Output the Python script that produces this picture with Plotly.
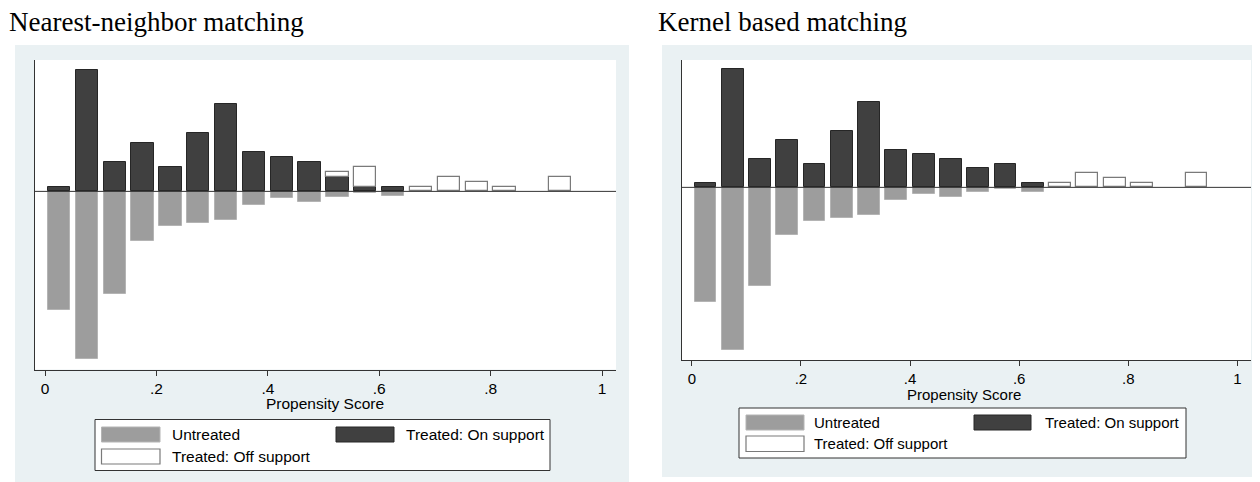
import plotly.graph_objects as go

# The page body adds an 8px margin, so the figure is sized/placed accordingly.
OFF = 8
W, H = 1260 - OFF, 482 - OFF

# ---- data (histogram bins of propensity score, width .05) ----
bin_centers = [0.025, 0.075, 0.125, 0.175, 0.225, 0.275, 0.325, 0.375, 0.425, 0.475,
               0.525, 0.575, 0.625, 0.675, 0.725, 0.775, 0.825, 0.875, 0.925]
untreated = [-24.3, -34.5, -21.0, -10.2, -7.2, -6.4, -5.8, -2.7, -1.45, -2.1,
             -1.05, -0.3, -0.9, 0, 0, 0, 0, 0, 0]
nn_on_support = [1, 25, 6, 10, 5, 12, 18, 8, 7, 6, 3, 1, 1, 0, 0, 0, 0, 0, 0]
nn_off_support = [0, 0, 0, 0, 0, 0, 0, 0, 0, 0, 1, 4, 0, 1, 3, 2, 1, 0, 3]
k_on_support = [1, 25, 6, 10, 5, 12, 18, 8, 7, 6, 4, 5, 1, 0, 0, 0, 0, 0, 0]
k_off_support = [0, 0, 0, 0, 0, 0, 0, 0, 0, 0, 0, 0, 0, 1, 3, 2, 1, 0, 3]

tick_vals = [0, 0.2, 0.4, 0.6, 0.8, 1.0]
tick_text = ["0", ".2", ".4", ".6", ".8", "1"]
titles = ["Nearest-neighbor matching", "Kernel based matching"]
legend_labels = ["Untreated", "Treated: On support", "Treated: Off support"]
x_title = "Propensity Score"

BAR_W = 0.04
C_UNT = "#9d9d9d"
C_ON = "#404040"
BG = "#eaf1f3"
SANS = "Liberation Sans, Arial"


def px(x):
    return (x - OFF) / W


def py(y):
    return 1 - (y - OFF) / H


def nz(vals):
    return [v if v != 0 else None for v in vals]


fig = go.Figure()

panels = [
    dict(on=nn_on_support, off=nn_off_support, xa="x", ya="y",
         dom_x=(35, 616), dom_y=(60, 369.5), fs=15.5),
    dict(on=k_on_support, off=k_off_support, xa="x2", ya="y2",
         dom_x=(682, 1251), dom_y=(60, 360), fs=15),
]

for p in panels:
    fig.add_trace(go.Bar(x=bin_centers, y=nz(untreated), width=BAR_W,
                         marker=dict(color=C_UNT, line=dict(color="#b4b4b4", width=1)),
                         xaxis=p["xa"], yaxis=p["ya"], showlegend=False))
    fig.add_trace(go.Bar(x=bin_centers, y=nz(p["on"]), width=BAR_W,
                         marker=dict(color=C_ON, line=dict(color="#262626", width=1)),
                         xaxis=p["xa"], yaxis=p["ya"], showlegend=False))
    fig.add_trace(go.Bar(x=bin_centers, y=nz(p["off"]), width=BAR_W,
                         marker=dict(color="white", line=dict(color="#7a7a7a", width=1.2)),
                         xaxis=p["xa"], yaxis=p["ya"], showlegend=False))


def x_axis(fs):
    return dict(range=[-0.018, 1.025], showline=True, linecolor="#333333", linewidth=1,
                ticks="outside", ticklen=5, tickwidth=1, tickcolor="#333333",
                tickvals=tick_vals, ticktext=tick_text, showgrid=False, zeroline=False,
                tickfont=dict(family=SANS, size=fs, color="black"),
                ticklabelstandoff=0, fixedrange=True)


axis_common_y = dict(range=[-36.6, 27.0], showline=True, linecolor="#333333", linewidth=1,
                     ticks="", showticklabels=False, showgrid=False, zeroline=False,
                     fixedrange=True)

fig.update_layout(
    width=W, height=H, margin=dict(l=0, r=0, t=0, b=0),
    paper_bgcolor="white", plot_bgcolor="white", barmode="relative", bargap=0,
    xaxis=dict(domain=[px(35), px(616)], anchor="y", **x_axis(15.5)),
    yaxis=dict(domain=[py(369.5), py(60)], anchor="x", **axis_common_y),
    xaxis2=dict(domain=[px(682), px(1251)], anchor="y2", **x_axis(15)),
    yaxis2=dict(domain=[py(360), py(60)], anchor="x2", **axis_common_y),
)

shapes = []
annotations = []

# panel backgrounds (graph region) and white plot regions
shapes.append(dict(type="rect", xref="paper", yref="paper", x0=px(15), x1=px(629),
                   y0=py(482), y1=py(45), fillcolor=BG, line=dict(width=0), layer="below"))
shapes.append(dict(type="rect", xref="paper", yref="paper", x0=px(662), x1=1,
                   y0=py(477), y1=py(45), fillcolor=BG, line=dict(width=0), layer="below"))
for p in panels:
    (xa0, xa1), (ya0, ya1) = p["dom_x"], p["dom_y"]
    shapes.append(dict(type="rect", xref="paper", yref="paper", x0=px(xa0), x1=px(xa1),
                       y0=py(ya1), y1=py(ya0), fillcolor="white", line=dict(width=0),
                       layer="below"))

# zero lines
for xa, ya in [("x", "y"), ("x2", "y2")]:
    shapes.append(dict(type="line", xref=f"{xa} domain", yref=ya, x0=0, x1=1, y0=0, y1=0,
                       line=dict(color="#333333", width=1), layer="above"))

# titles
title_font = dict(family="Liberation Serif, Times New Roman", size=27, color="black")
annotations.append(dict(text=titles[0], xref="paper", yref="paper", x=px(7), y=py(22),
                        xanchor="left", yanchor="middle", showarrow=False, font=title_font))
annotations.append(dict(text=titles[1], xref="paper", yref="paper", x=px(656), y=py(22),
                        xanchor="left", yanchor="middle", showarrow=False, font=title_font))

# axis titles
annotations.append(dict(text=x_title, xref="paper", yref="paper", x=px(325), y=py(403),
                        xanchor="center", yanchor="middle", showarrow=False,
                        font=dict(family=SANS, size=15.5, color="black")))
annotations.append(dict(text=x_title, xref="paper", yref="paper", x=px(964), y=py(394.5),
                        xanchor="center", yanchor="middle", showarrow=False,
                        font=dict(family=SANS, size=15, color="black")))

# legends (drawn manually to reproduce the Stata style)
legends = [
    dict(box=(95, 550, 419.5, 470.5), sw1=(101.5, 160), col2=(336, 394),
         row1=(427, 442), row2=(449, 464), t1=170, t2=404, fs=15.5),
    dict(box=(739, 1186, 408, 458), sw1=(746, 804), col2=(974, 1031),
         row1=(415, 430), row2=(436, 451.5), t1=812, t2=1043, fs=15),
]
for L in legends:
    bx0, bx1, by0, by1 = L["box"]
    shapes.append(dict(type="rect", xref="paper", yref="paper", x0=px(bx0), x1=px(bx1),
                       y0=py(by1), y1=py(by0), fillcolor="white",
                       line=dict(color="#333333", width=1), layer="above"))
    r1, r2 = L["row1"], L["row2"]
    s1, c2 = L["sw1"], L["col2"]
    shapes.append(dict(type="rect", xref="paper", yref="paper", x0=px(s1[0]), x1=px(s1[1]),
                       y0=py(r1[1]), y1=py(r1[0]), fillcolor=C_UNT,
                       line=dict(color="#b4b4b4", width=1), layer="above"))
    shapes.append(dict(type="rect", xref="paper", yref="paper", x0=px(c2[0]), x1=px(c2[1]),
                       y0=py(r1[1]), y1=py(r1[0]), fillcolor=C_ON,
                       line=dict(color="#262626", width=1), layer="above"))
    shapes.append(dict(type="rect", xref="paper", yref="paper", x0=px(s1[0]), x1=px(s1[1]),
                       y0=py(r2[1]), y1=py(r2[0]), fillcolor="white",
                       line=dict(color="#7a7a7a", width=1.2), layer="above"))
    f = dict(family=SANS, size=L["fs"], color="black")
    annotations.append(dict(text=legend_labels[0], xref="paper", yref="paper", x=px(L["t1"]),
                            y=py((r1[0] + r1[1]) / 2), xanchor="left", yanchor="middle",
                            showarrow=False, font=f))
    annotations.append(dict(text=legend_labels[1], xref="paper", yref="paper", x=px(L["t2"]),
                            y=py((r1[0] + r1[1]) / 2), xanchor="left", yanchor="middle",
                            showarrow=False, font=f))
    annotations.append(dict(text=legend_labels[2], xref="paper", yref="paper", x=px(L["t1"]),
                            y=py((r2[0] + r2[1]) / 2), xanchor="left", yanchor="middle",
                            showarrow=False, font=f))

fig.update_layout(shapes=shapes, annotations=annotations)
fig.write_html("out.html")
